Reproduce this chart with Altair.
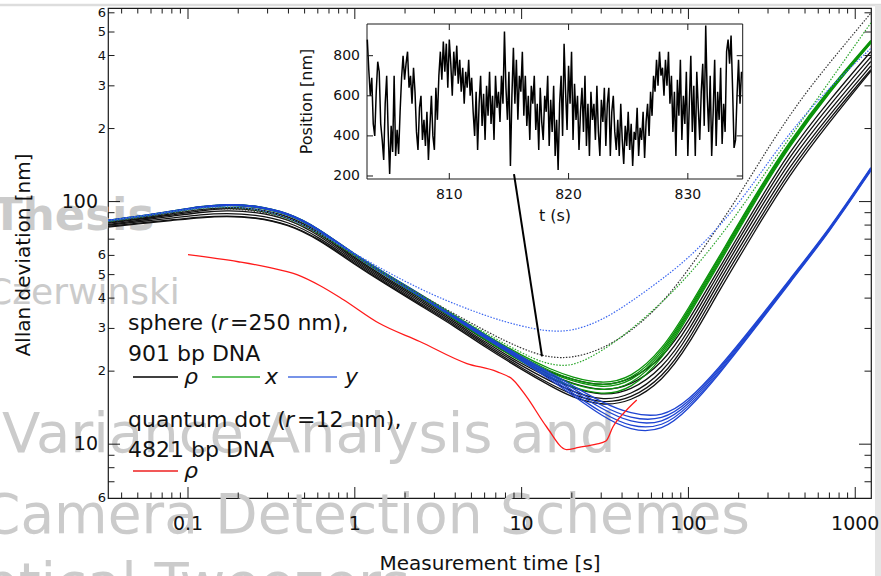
import altair as alt
import pandas as pd

FONT = "DejaVu Sans"
W, H = 763, 490
AX = "#1a1a1a"
WM = "#cbcbcb"

# ---------------- Allan deviation curves ----------------
# measurement times (s) shared by the sphere curves
T = [0.033, 0.05, 0.08, 0.12, 0.17, 0.25, 0.4, 0.6, 1, 1.5, 2.5, 4, 6, 10, 15,
     20, 30, 45, 70, 100, 150, 250, 400, 700, 1240]

# sphere, radial coordinate rho (nm)
rho_sphere = {
    "rho1": [82, 85, 89, 93, 95, 94, 87.5, 75.8, 58.5, 49, 39.8, 32.8, 27.4, 22.3, 19.7,
             18.5, 17.3, 18.3, 22.5, 32, 52, 94, 160, 262, 415],
    "rho2": [81.5, 84.5, 88, 92, 94, 93, 86.5, 74.8, 57.8, 48.4, 39.2, 32.3, 26.9, 21.9, 19.2,
             17.8, 16.5, 17.3, 21.5, 30.5, 50, 90, 153, 250, 395],
    "rho3": [80.5, 83.5, 87, 90.5, 92, 91, 85, 73.5, 57, 47.7, 38.6, 31.8, 26.4, 21.4, 18.6,
             17.1, 15.8, 16.5, 20.5, 29, 48, 86, 146, 238, 378],
    "rho4": [80, 82.5, 85.5, 88.5, 89.5, 88.5, 82.8, 72, 56.2, 47, 38, 31.3, 26, 21, 18.1,
             16.5, 15.1, 15.8, 19.6, 27.8, 46, 82, 139, 228, 362],
    "rho5": [79, 81.5, 84, 86.5, 87.5, 86.5, 81, 70.8, 55.5, 46.4, 37.5, 30.9, 25.6, 20.6, 17.6,
             16, 14.7, 15.3, 18.8, 26.5, 44, 78.5, 133, 220, 350],
    "rho6": [78.5, 81, 83.5, 86, 87, 86, 80.5, 70.2, 55, 46, 37.1, 30.5, 25.2, 20.3, 17.3,
             15.6, 14.4, 14.9, 18.2, 25.5, 42, 75.5, 128, 213, 345],
}

# sphere, x coordinate (nm)
x_sphere = {
    "x1": [83.8, 86.8, 91.3, 95.7, 97.7, 96.7, 90, 78, 60.5, 51, 41.3, 33.8, 28.4, 23.2, 20.3,
           18.9, 17.7, 18.6, 24.5, 36.3, 58, 106, 176, 293, 462],
    "x2": [83.5, 86.5, 91, 95.5, 97.5, 96.5, 89.8, 77.8, 60.2, 50.8, 41, 33.5, 28.1, 22.9, 19.9,
           18.5, 17.3, 18.2, 24, 35.6, 57, 104.5, 174, 290, 458],
    "x3": [83.3, 86.3, 90.8, 95.2, 97.2, 96.2, 89.5, 77.5, 60, 50.5, 40.8, 33.3, 27.8, 22.6, 19.6,
           18.2, 17, 17.8, 23.5, 35, 56, 103, 172, 288, 455],
    "x4": [83, 86, 90.5, 95, 97, 96, 89.2, 77.2, 59.7, 50.2, 40.5, 33, 27.4, 22.2, 19.2,
           17.7, 16.5, 17.3, 23, 34.4, 55, 101.5, 170, 285, 452],
    "x5": [82.8, 85.8, 90.2, 94.7, 96.7, 95.7, 89, 77, 59.4, 49.9, 40.2, 32.7, 27, 21.8, 18.8,
           17.2, 15.9, 16.7, 22.4, 33.8, 54, 100, 168, 283, 450],
}

# sphere, y coordinate (nm)
y_sphere = {
    "y1": [83.8, 86.8, 91.3, 95.7, 97.7, 96.7, 90, 78, 60.4, 50.9, 41.2, 33.7, 28.2, 22.9, 19.6,
           17.5, 14.9, 13.3, 12.9, 15.1, 20.3, 31.2, 47.4, 77, 138],
    "y2": [83.6, 86.6, 91.1, 95.5, 97.5, 96.5, 89.8, 77.8, 60.2, 50.7, 41, 33.5, 28, 22.7, 19.3,
           17.1, 14.4, 12.7, 12.5, 14.8, 20, 30.8, 47, 76.3, 137],
    "y3": [83.4, 86.4, 90.9, 95.3, 97.3, 96.3, 89.6, 77.6, 60, 50.5, 40.8, 33.3, 27.8, 22.5, 19,
           16.7, 14, 12.2, 12.1, 14.5, 19.7, 30.5, 46.6, 75.8, 136],
    "y4": [83.2, 86.2, 90.7, 95.1, 97.1, 96.1, 89.4, 77.4, 59.8, 50.3, 40.6, 33.1, 27.6, 22.3, 18.7,
           16.3, 13.5, 11.7, 11.7, 14.2, 19.4, 30.2, 46.2, 75.3, 135],
    "y5": [83, 86, 90.5, 94.9, 96.9, 95.9, 89.2, 77.2, 59.6, 50.1, 40.4, 32.9, 27.4, 22.1, 18.4,
           16, 13.1, 11.3, 11.3, 13.9, 19.1, 29.9, 45.8, 74.8, 134],
}

# dotted reference curves
T_DOT = [0.033, 0.08, 0.17, 0.4, 1, 2.5, 5, 8, 12, 15, 20, 30, 45, 70, 110, 200, 320,
         500, 810, 1240]
rho_dotted = [82, 90, 95.5, 88, 59.5, 41, 31.5, 26.5, 23.6, 22.8, 22.6, 24.5, 29, 38, 57,
              105, 179, 280, 421, 598]
x_dotted = [83, 91, 97, 89, 59.8, 40.8, 31, 25.8, 22.3, 21.3, 20.8, 24, 29.5, 38.5, 53,
            90, 146, 225, 360, 545]
y_dotted = [83.5, 91, 97.5, 89.5, 60.5, 43, 35.5, 31.8, 29.8, 29.2, 29.2, 32.2, 38.5, 48,
            61.5, 97, 155, 230, 325, 428]

# quantum dot, rho (nm)
T_QD = [0.1, 0.2, 0.3, 0.45, 0.62, 0.85, 1.4, 2.45, 4.7, 7.1, 8.9, 10.7, 14.1, 18.6,
        22, 28, 32, 35.3, 42.5, 49]
rho_qdot = [60.4, 56.5, 53.7, 50, 45, 39.5, 31.5, 26.5, 21.5, 19.9, 18.4, 15.7, 11.8,
            9.5, 9.7, 10.0, 10.3, 11.8, 13.8, 15.2]

# ---------------- inset: position trace ----------------
TRACE_T0 = 803.125
TRACE_DT = 0.125
trace_nm = [
    880, 730, 600, 690, 460, 400, 620, 770,   # 803
    720, 460, 380, 280, 560, 700, 420, 210,   # 804
    450, 320, 700, 300, 430, 310, 520, 690,   # 805
    800, 680, 760, 820, 640, 700, 560, 740,   # 806
    620, 420, 330, 540, 600, 380, 480, 350,   # 807
    520, 280, 450, 600, 400, 330, 640, 480,   # 808
    700, 820, 680, 870, 720, 860, 640, 880,   # 809
    760, 600, 820, 700, 850, 660, 780, 620,   # 810
    740, 560, 720, 640, 780, 600, 690, 520,   # 811
    400, 620, 330, 560, 700, 450, 610, 380,   # 812
    650, 500, 720, 460, 600, 380, 700, 540,   # 813
    620, 470, 700, 560, 920, 640, 480, 720,   # 814
    250, 600, 840, 560, 780, 480, 700, 620,   # 815
    820, 500, 700, 450, 600, 380, 650, 560,   # 816
    700, 430, 560, 330, 640, 470, 380, 600,   # 817
    520, 700, 350, 580, 420, 650, 300, 480,   # 818
    230, 560, 700, 400, 860, 620, 430, 750,   # 819
    560, 820, 380, 660, 480, 600, 330, 520,   # 820
    640, 420, 700, 350, 560, 300, 620, 480,   # 821
    560, 380, 650, 420, 300, 580, 470, 640,   # 822
    350, 560, 640, 300, 520, 600, 420, 330,   # 823
    480, 300, 560, 380, 260, 450, 350, 520,   # 824
    330, 460, 250, 420, 380, 540, 300, 440,   # 825
    380, 520, 290, 470, 560, 400, 620, 500,   # 826
    700, 620, 780, 650, 820, 700, 740, 600,   # 827
    780, 650, 820, 560, 700, 420, 620, 300,   # 828
    680, 500, 780, 380, 600, 460, 720, 300,   # 829
    560, 800, 420, 650, 300, 720, 540, 380,   # 830
    620, 760, 450, 950, 600, 420, 700, 300,   # 831
    520, 780, 350, 620, 480, 740, 360, 560,   # 832
    420, 820, 880, 760, 900, 640, 340, 380,   # 833
    600, 780, 560, 720,                       # 834
]
trace_t = [TRACE_T0 + TRACE_DT * i for i in range(len(trace_nm))]

# ---------------- ticks and labels ----------------
X_MAJOR = [0.1, 1, 10, 100, 1000]
X_MAJOR_LABELS = ["0.1", "1", "10", "100", "1000"]
X_MINOR = [0.04, 0.05, 0.06, 0.07, 0.08, 0.09, 0.2, 0.3, 0.4, 0.5, 0.6, 0.7, 0.8, 0.9,
           2, 3, 4, 5, 6, 7, 8, 9, 20, 30, 40, 50, 60, 70, 80, 90,
           200, 300, 400, 500, 600, 700, 800, 900]
Y_MAJOR = [10, 100]
Y_MAJOR_LABELS = ["10", "100"]
Y_MINOR = [7, 8, 9, 20, 30, 40, 50, 60, 70, 80, 90, 200, 300, 400, 500, 600]
Y_SMALL = [6, 20, 30, 40, 50, 60, 200, 300, 400, 500, 600]
Y_SMALL_LABELS = ["6", "2", "3", "4", "5", "6", "2", "3", "4", "5", "6"]

INSET_X_TICKS = [810, 820, 830]
INSET_Y_TICKS = [200, 400, 600, 800]

X_DOMAIN = [0.03314, 1243]
Y_DOMAIN = [6, 628]
IX_DOMAIN = [803.1, 834.6]
IY_DOMAIN = [185, 958]


def xs():
    return alt.Scale(type="log", domain=X_DOMAIN, nice=False)


def ys():
    return alt.Scale(type="log", domain=Y_DOMAIN, nice=False)


def X(field="t"):
    return alt.X(f"{field}:Q", scale=xs(), axis=None)


def Y(field="v"):
    return alt.Y(f"{field}:Q", scale=ys(), axis=None)


def long_df(ts, series):
    rows = []
    for name, vals in series.items():
        for t, v in zip(ts, vals):
            rows.append({"t": t, "v": v, "curve": name})
    return pd.DataFrame(rows)


ONE = pd.DataFrame({"k": [0]})


def txt(s, x, y, size=22, color="#111", italic=False, bold=False, angle=0,
        align="left", baseline="alphabetic"):
    props = dict(text=s, font=FONT, fontSize=size, color=color, align=align,
                 baseline=baseline)
    if italic:
        props["fontStyle"] = "italic"
    if bold:
        props["fontWeight"] = "bold"
    if angle:
        props["angle"] = angle
    return alt.Chart(ONE).mark_text(**props).encode(x=alt.value(x), y=alt.value(y))


def curves(df, color, width=1.3, dash=None, interp="basis"):
    props = dict(color=color, strokeWidth=width, interpolate=interp, clip=True)
    if dash:
        props["strokeDash"] = dash
    return alt.Chart(df).mark_line(**props).encode(x=X(), y=Y(), detail="curve:N")


def x_tick_rules(vals, length):
    base = alt.Chart(pd.DataFrame({"t": vals})).mark_rule(color=AX, strokeWidth=1)
    return [base.encode(x=X(), y=alt.value(H), y2=alt.value(H - length)),
            base.encode(x=X(), y=alt.value(0), y2=alt.value(length))]


def y_tick_rules(vals, length):
    base = alt.Chart(pd.DataFrame({"v": vals})).mark_rule(color=AX, strokeWidth=1)
    return [base.encode(y=Y(), x=alt.value(0), x2=alt.value(length)),
            base.encode(y=Y(), x=alt.value(W), x2=alt.value(W - length))]


# ---- page edge and background lettering ----
page_edge = [
    alt.Chart(ONE).mark_rule(color="#dddddd", strokeWidth=2.5).encode(
        x=alt.value(-108), x2=alt.value(W + 10), y=alt.value(-3)),
    alt.Chart(ONE).mark_rule(color="#e4e4e4", strokeWidth=6).encode(
        x=alt.value(W + 7), y=alt.value(-3), y2=alt.value(H + 78)),
]
watermark = [
    txt("Thesis", -116, 222, size=45, color=WM, bold=True),
    txt("Czerwinski", -121, 296, size=36, color=WM),
    txt("Variance Analysis and", -106, 444, size=56, color=WM),
    txt("Camera Detection Schemes", -126, 525, size=55, color=WM),
    txt("Optical Tweezers", -169, 594, size=56, color=WM),
]

# ---- data curves ----
black = "#111111"
green = "#0b930b"
blue = "#1e44d2"
data_layers = [
    curves(long_df(T, rho_sphere), black),
    curves(long_df(T, x_sphere), green),
    curves(long_df(T, y_sphere), blue),
    curves(long_df(T_DOT, {"rho_d": rho_dotted}), "#333333", 1.2, [1.5, 1.5]),
    curves(long_df(T_DOT, {"x_d": x_dotted}), "#2aa52a", 1.2, [1.5, 1.5]),
    curves(long_df(T_DOT, {"y_d": y_dotted}), "#3a66f0", 1.2, [1.5, 1.5]),
    curves(long_df(T_QD, {"qd": rho_qdot}), "#ff1a1a", 1.3, interp="monotone"),
]

# ---- axes drawn inside the frame ----
axis_layers = (x_tick_rules(X_MAJOR, 11) + x_tick_rules(X_MINOR, 5.5)
               + y_tick_rules(Y_MAJOR, 12) + y_tick_rules(Y_MINOR, 6.5))

x_labels = alt.Chart(pd.DataFrame({"t": X_MAJOR, "lab": X_MAJOR_LABELS})).mark_text(
    font=FONT, fontSize=19, color="#111", baseline="middle").encode(
    x=X(), y=alt.value(H + 26), text="lab:N")
y_labels_big = alt.Chart(pd.DataFrame({"v": Y_MAJOR, "lab": Y_MAJOR_LABELS})).mark_text(
    font=FONT, fontSize=19, color="#111", baseline="middle", align="right").encode(
    y=Y(), x=alt.value(-10), text="lab:N")
y_labels_small = alt.Chart(pd.DataFrame({"v": Y_SMALL, "lab": Y_SMALL_LABELS})).mark_text(
    font=FONT, fontSize=13, color="#111", baseline="middle", align="right").encode(
    y=Y(), x=alt.value(-2), text="lab:N")

titles = [
    txt("Measurement time [s]", 382, 562, size=20, align="center"),
    txt("Allan deviation [nm]", -84, 247, size=20, angle=270, align="center",
        baseline="middle"),
]

# ---- legend block ----
def legend_line(x0, x1, y, color):
    return alt.Chart(ONE).mark_rule(color=color, strokeWidth=1.3).encode(
        x=alt.value(x0), x2=alt.value(x1), y=alt.value(y))


legend = [
    txt("sphere (", 20, 322),
    txt("r", 110, 322, italic=True),
    txt("=250 nm),", 122, 322),
    txt("901 bp DNA", 20, 353),
    legend_line(25, 70, 369, "#000000"),
    txt("\u03c1", 76, 376, italic=True),
    legend_line(104, 152, 369, "#35b035"),
    txt("x", 157, 376, italic=True),
    legend_line(180, 229, 369, "#4a6fe0"),
    txt("y", 237, 376, italic=True),
    txt("quantum dot (", 20, 419),
    txt("r", 177, 419, italic=True),
    txt("=12 nm),", 189, 419),
    txt("4821 bp DNA", 20, 449),
    legend_line(25, 70, 463, "#ee2020"),
    txt("\u03c1", 76, 470, italic=True),
]

main = alt.layer(*page_edge, *watermark, *data_layers, *axis_layers, x_labels,
                 y_labels_big, y_labels_small, *titles, *legend)

# ---------------- inset ----------------
IX0, IX1, IY0, IY1 = 259, 634.7, 171, 16


def IX(field="t"):
    return alt.X(f"{field}:Q", scale=alt.Scale(domain=IX_DOMAIN, range=[IX0, IX1],
                                               nice=False, zero=False), axis=None)


def IY(field="v"):
    return alt.Y(f"{field}:Q", scale=alt.Scale(domain=IY_DOMAIN, range=[IY0, IY1],
                                               nice=False, zero=False), axis=None)


frame_df = pd.DataFrame({"t": [IX_DOMAIN[0]], "t2": [IX_DOMAIN[1]],
                         "v": [IY_DOMAIN[0]], "v2": [IY_DOMAIN[1]]})
inset_frame = alt.Chart(frame_df).mark_rect(fill="white", stroke=AX, strokeWidth=1).encode(
    x=IX("t"), x2="t2:Q", y=IY("v"), y2="v2:Q")
inset_trace = alt.Chart(pd.DataFrame({"t": trace_t, "v": trace_nm})).mark_line(
    color="#000000", strokeWidth=1.5).encode(x=IX(), y=IY())

ixt = alt.Chart(pd.DataFrame({"t": INSET_X_TICKS})).mark_rule(color=AX, strokeWidth=1)
iyt = alt.Chart(pd.DataFrame({"v": INSET_Y_TICKS})).mark_rule(color=AX, strokeWidth=1)
inset_ticks = [
    ixt.encode(x=IX(), y=alt.value(IY0), y2=alt.value(IY0 - 6)),
    ixt.encode(x=IX(), y=alt.value(IY1), y2=alt.value(IY1 + 6)),
    iyt.encode(y=IY(), x=alt.value(IX0), x2=alt.value(IX0 + 6)),
    iyt.encode(y=IY(), x=alt.value(IX1), x2=alt.value(IX1 - 6)),
]
inset_xlab = alt.Chart(pd.DataFrame({"t": INSET_X_TICKS})).mark_text(
    font=FONT, fontSize=14, color="#111", baseline="middle").encode(
    x=IX(), y=alt.value(IY0 + 16), text=alt.Text("t:Q", format="d"))
inset_ylab = alt.Chart(pd.DataFrame({"v": INSET_Y_TICKS})).mark_text(
    font=FONT, fontSize=14, color="#111", baseline="middle", align="right").encode(
    y=IY(), x=alt.value(IX0 - 7), text=alt.Text("v:Q", format="d"))
inset_titles = [
    txt("t (s)", 447, 208, size=16, align="center", baseline="middle"),
    txt("Position [nm]", 199, 93.5, size=16, angle=270, align="center",
        baseline="middle"),
]

inset = alt.layer(inset_frame, inset_trace, *inset_ticks, inset_xlab, inset_ylab,
                  *inset_titles)

# pointer from the trace to the dotted rho minimum
pointer_df = pd.DataFrame({"t": [9.0], "v": [129.8], "t2": [13.25], "v2": [23.0]})
pointer = alt.Chart(pointer_df).mark_rule(color="#000000", strokeWidth=2).encode(
    x=X("t"), y=Y("v"), x2="t2:Q", y2="v2:Q")

chart = alt.layer(main, inset, pointer).resolve_scale(
    x="independent", y="independent"
).properties(
    width=W, height=H,
    autosize=alt.AutoSizeParams(type="none"),
    padding={"left": 108, "top": 8, "right": 10, "bottom": 78},
).configure_view(stroke=AX, strokeWidth=1.2)

chart.save("out.html", embed_options={"renderer": "svg", "actions": False})
